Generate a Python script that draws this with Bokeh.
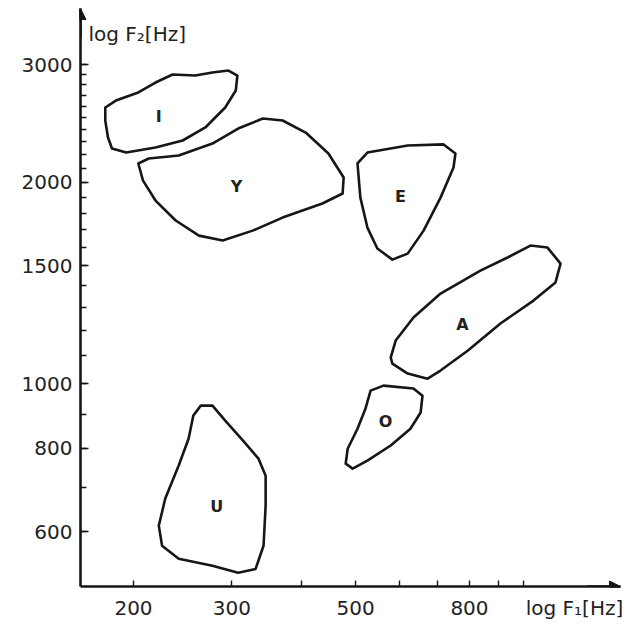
from bokeh.plotting import figure
from bokeh.models import (Range1d, FixedTicker, NumeralTickFormatter, Label,
                          Arrow, NormalHead, ColumnDataSource, CustomJSTickFormatter)
from bokeh.embed import file_html
from bokeh.resources import INLINE
from bokeh.core.properties import value

# ---- data: vowel regions in the F1 / F2 plane (Hz) ----
vowels = ["I", "Y", "E", "A", "O", "U"]

I_f1 = [178, 186, 204, 219, 235, 258, 277, 296, 307, 305, 292, 269, 245, 219, 194, 183, 180, 178]
I_f2 = [2589, 2652, 2727, 2822, 2901, 2891, 2921, 2941, 2891, 2745, 2589, 2417, 2311, 2256, 2217, 2248, 2335, 2476]

Y_f1 = [204, 213, 241, 277, 308, 341, 370, 407, 447, 476, 474, 436, 370, 327, 289, 262, 238, 219, 208]
Y_f2 = [2135, 2172, 2195, 2287, 2408, 2493, 2476, 2375, 2210, 2034, 1925, 1860, 1772, 1694, 1637, 1665, 1754, 1879, 2013]

E_f1 = [504, 525, 620, 719, 755, 749, 710, 662, 620, 582, 547, 525, 510]
E_f2 = [2135, 2217, 2272, 2280, 2210, 2106, 1898, 1694, 1565, 1533, 1593, 1712, 1898]

A_f1 = [578, 590, 635, 710, 837, 936, 1029, 1104, 1165, 1141, 1042, 909, 794, 710, 673, 620, 582]
A_f2 = [1094, 1160, 1256, 1364, 1476, 1544, 1609, 1598, 1512, 1417, 1331, 1230, 1120, 1046, 1017, 1035, 1071]

O_f1 = [532, 561, 635, 659, 654, 627, 578, 525, 494, 480, 484, 504, 521]
O_f2 = [976, 993, 983, 959, 905, 856, 808, 767, 746, 759, 799, 856, 918]

U_f1 = [264, 277, 292, 314, 335, 345, 345, 342, 331, 308, 277, 241, 225, 222, 228, 241, 251, 256]
U_f2 = [927, 927, 880, 822, 772, 728, 657, 572, 528, 521, 534, 547, 572, 613, 673, 754, 827, 896]

label_f1 = [222, 306, 602, 777, 566, 282]
label_f2 = [2510, 1972, 1905, 1225, 877, 654]

x_labels = [200, 300, 500, 800]
x_ticks = [200, 300, 400, 500, 600, 700, 800, 900, 1000]
x_title = "log F\u2081[Hz]"
x_title_at = 1234
y_major = [600, 800, 1000, 1500, 2000, 3000]
y_minor = [600, 700, 800, 900, 1000, 1100, 1200, 1300, 1400, 1500, 1600, 1700,
           1800, 1900, 2000, 2100, 2200, 2300, 2400, 2500, 2600, 2700, 2800,
           2900, 3000]
y_title = "log F\u2082[Hz]"

INK = "#161616"
FONT = "DejaVu Sans"

p = figure(width=630, height=625, x_axis_type="log", y_axis_type="log",
           x_range=Range1d(160.7, 1492), y_range=Range1d(497, 3642),
           output_backend="svg", toolbar_location=None,
           min_border_left=80, min_border_right=10,
           min_border_top=8, min_border_bottom=39)
p.outline_line_color = None
p.grid.visible = False
p.background_fill_color = "white"
p.border_fill_color = "white"

for ax in (p.xaxis[0], p.yaxis[0]):
    ax.axis_line_width = 2.6
    ax.axis_line_color = INK
    ax.major_tick_line_color = INK
    ax.minor_tick_line_color = INK
    ax.major_tick_line_width = 1.6
    ax.minor_tick_line_width = 1.4
    ax.major_tick_in = 8
    ax.major_tick_out = 0
    ax.minor_tick_in = 6
    ax.minor_tick_out = 0
    ax.major_label_text_font = FONT
    ax.major_label_text_font_size = "20px"
    ax.major_label_text_color = "#222222"
    ax.major_label_standoff = 8

p.yaxis[0].formatter = NumeralTickFormatter(format="0")
p.yaxis[0].ticker = FixedTicker(ticks=y_major, minor_ticks=y_minor)

# x axis: visible tick marks come from the minor ticks; major ticks only carry
# the labels (the axis title sits on the label row, at the right end)
p.xaxis[0].ticker = FixedTicker(ticks=x_labels + [x_title_at], minor_ticks=x_ticks)
p.xaxis[0].major_tick_in = 0
p.xaxis[0].major_label_standoff = 9
p.xaxis[0].formatter = CustomJSTickFormatter(
    args=dict(title=x_title, at=x_title_at),
    code="return Math.abs(tick - at) < 1 ? title : tick.toFixed(0);")

src = ColumnDataSource(dict(
    xs=[I_f1, Y_f1, E_f1, A_f1, O_f1, U_f1],
    ys=[I_f2, Y_f2, E_f2, A_f2, O_f2, U_f2],
))
p.patches("xs", "ys", source=src, fill_color=None, line_color=INK,
          line_width=2.6, line_join="round")

p.text(x=label_f1, y=label_f2, text=vowels, text_font=value(FONT),
       text_font_size="16px", text_font_style="bold", text_color="#222222",
       text_align="center", text_baseline="middle")

# axis arrows
p.add_layout(Arrow(end=NormalHead(size=11, fill_color=INK, line_color=INK),
                   x_start=160.7, y_start=3300, x_end=160.7, y_end=3642,
                   line_color=INK, line_width=2.6))
p.add_layout(Arrow(end=NormalHead(size=11, fill_color=INK, line_color=INK),
                   x_start=1300, y_start=497, x_end=1492, y_end=497,
                   line_color=INK, line_width=2.6))

# y axis title, next to the arrow tip
p.add_layout(Label(x=8, y=553, x_units="screen", y_units="screen",
                   text=y_title, text_font=FONT, text_font_size="20px",
                   text_color="#222222", text_baseline="middle", text_align="left"))

open("out.html", "w").write(file_html(p, INLINE))
